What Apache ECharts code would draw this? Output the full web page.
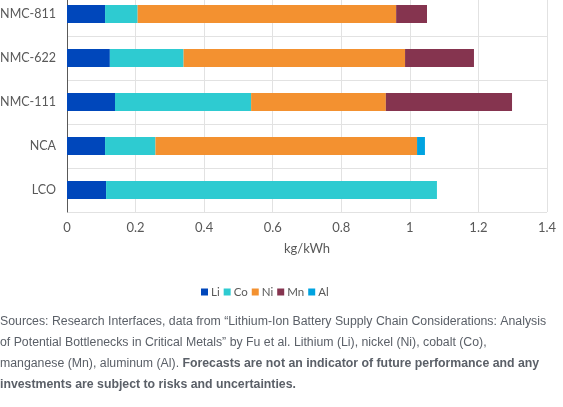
<!DOCTYPE html>
<html>
<head>
<meta charset="utf-8">
<script src="https://cdn.jsdelivr.net/npm/echarts@6/dist/echarts.min.js"></script>
<style>
html,body{margin:0;padding:0;background:#fff;}
#c{width:563px;height:407px;}
</style>
</head>
<body>
<div id="c"></div>
<script>
var categories = ['LCO', 'NCA', 'NMC-111', 'NMC-622', 'NMC-811'];
var li = [0.114, 0.111, 0.140, 0.125, 0.111];
var co = [0.965, 0.147, 0.397, 0.215, 0.095];
var ni = [0, 0.763, 0.393, 0.646, 0.754];
var mn = [0, 0, 0.368, 0.201, 0.090];
var al = [0, 0.023, 0, 0, 0];
var seriesNames = ['Li', 'Co', 'Ni', 'Mn', 'Al'];
var colors = ['#0047BB', '#2ECBD1', '#F39130', '#85344F', '#00A3E0'];
var xTicks = [0, 0.2, 0.4, 0.6, 0.8, 1, 1.2, 1.4];

var font = 'Lato';
var dataSets = [li, co, ni, mn, al];
var series = seriesNames.map(function (n, i) {
  return {
    name: n, type: 'bar', stack: 'total', barWidth: 18,
    itemStyle: { color: colors[i] },
    data: dataSets[i].map(function (v) { return v === 0 ? null : v; })
  };
});

var chart = echarts.init(document.getElementById('c'), null, { renderer: 'canvas' });
chart.setOption({
  animation: false,
  color: colors,
  grid: { left: 67, right: 16, top: -8, bottom: 195, containLabel: false, outerBoundsMode: 'none' },
  xAxis: {
    type: 'value', min: 0, max: 1.4, interval: 0.2,
    name: 'kg/kWh', nameLocation: 'middle', nameGap: 30,
    nameTextStyle: { color: '#595959', fontSize: 13, fontFamily: font },
    axisLine: { show: false }, axisTick: { show: false },
    axisLabel: { color: '#595959', fontSize: 13, fontFamily: font, margin: 9,
      formatter: function (v) { return String(Math.round(v * 10) / 10); } },
    splitLine: { lineStyle: { color: '#e2e2e2', width: 1 } }
  },
  yAxis: {
    type: 'category', data: categories,
    axisLine: { show: true, lineStyle: { color: '#595959', width: 1 } },
    axisTick: { show: false },
    axisLabel: { color: '#595959', fontSize: 12.5, fontFamily: font, margin: 11 },
    splitLine: { show: true, lineStyle: { color: '#e2e2e2', width: 1 } }
  },
  legend: {
    left: 196, top: 281, icon: 'rect', itemWidth: 7, itemHeight: 7, itemGap: 4,
    data: seriesNames,
    textStyle: { color: '#595959', fontSize: 11.5, fontFamily: font, padding: [0, 0, 0, -2] }
  },
  title: {
    left: 0, top: 311,
    text: '{n|Sources: Research Interfaces, data from \u201cLithium-Ion Battery Supply Chain Considerations: Analysis}\n' +
          '{n|of Potential Bottlenecks in Critical Metals\u201d by Fu et al. Lithium (Li), nickel (Ni), cobalt (Co),}\n' +
          '{n|manganese (Mn), aluminum (Al). }{b|Forecasts are not an indicator of future performance and any}\n' +
          '{b|investments are subject to risks and uncertainties.}',
    padding: 0,
    textStyle: {
      fontWeight: 'normal',
      rich: {
        n: { fontFamily: 'Liberation Sans', fontSize: 12.3, color: '#5b6068', fontWeight: 'normal', lineHeight: 21 },
        b: { fontFamily: 'Liberation Sans', fontSize: 12.3, color: '#5b6068', fontWeight: 'bold', lineHeight: 21 }
      }
    }
  },
  series: series
});
</script>
</body>
</html>
